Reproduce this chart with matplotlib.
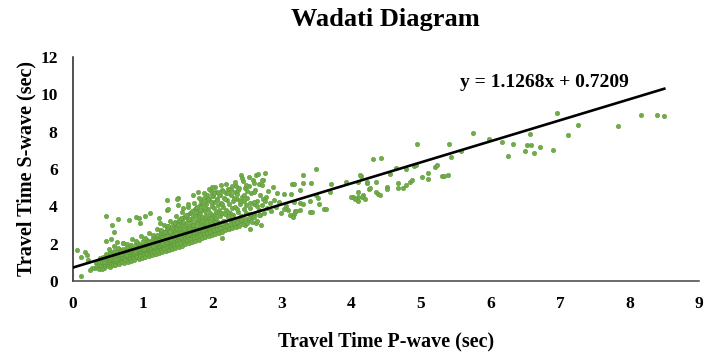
import matplotlib
matplotlib.use("Agg")
import matplotlib.pyplot as plt
import numpy as np

# P-wave / S-wave travel times (sec), dense part of the catalogue
core = [
    (0.314, 0.72), (0.327, 0.95), (0.352, 0.81), (0.368, 1.12), (0.376, 0.88), (0.395, 1.25),
    (0.408, 0.78), (0.423, 1.02), (0.437, 1.31), (0.441, 0.91), (0.458, 1.18), (0.462, 0.84),
    (0.474, 1.42), (0.486, 1.05), (0.493, 0.97), (0.481, 1.27),
    (0.503, 0.86), (0.517, 1.14), (0.528, 1.38), (0.512, 0.98), (0.536, 1.55), (0.544, 1.07),
    (0.549, 0.92), (0.561, 1.26), (0.566, 1.46), (0.573, 1.03), (0.582, 1.19), (0.587, 1.62),
    (0.594, 0.95), (0.598, 1.33),
    (0.604, 1.08), (0.613, 1.41), (0.619, 0.99), (0.626, 1.23), (0.634, 1.58), (0.638, 1.12),
    (0.645, 1.34), (0.652, 1.02), (0.657, 1.70), (0.664, 1.18), (0.671, 1.47), (0.676, 1.29),
    (0.683, 1.06), (0.688, 1.39), (0.692, 1.61), (0.699, 1.15),
    (0.705, 1.28), (0.714, 1.52), (0.718, 1.09), (0.723, 1.74), (0.731, 1.36), (0.737, 1.21),
    (0.745, 1.63), (0.749, 1.44), (0.756, 1.13), (0.761, 1.31), (0.767, 1.57), (0.772, 1.82),
    (0.778, 1.25), (0.784, 1.48), (0.788, 1.17), (0.793, 1.39), (0.797, 1.66), (0.802, 1.29),
    (0.806, 1.45), (0.811, 1.19), (0.817, 1.72), (0.823, 1.34), (0.828, 1.58), (0.834, 1.26),
    (0.838, 1.91), (0.843, 1.41), (0.849, 1.22), (0.853, 1.64), (0.858, 1.50), (0.864, 1.33),
    (0.869, 1.79), (0.873, 1.28), (0.879, 1.55), (0.884, 1.43), (0.889, 1.68), (0.893, 1.24),
    (0.898, 1.37), (0.904, 1.96),
    (0.907, 1.52), (0.912, 1.30), (0.918, 1.75), (0.923, 1.41), (0.927, 1.62), (0.933, 1.27),
    (0.938, 2.05), (0.942, 1.48), (0.947, 1.36), (0.952, 1.83), (0.956, 1.57), (0.961, 1.33),
    (0.966, 1.69), (0.971, 1.44), (0.975, 1.92), (0.981, 1.38), (0.986, 1.60), (0.991, 1.51),
    (0.995, 1.78), (1.002, 1.35),
    (1.006, 1.46), (1.011, 2.12), (1.017, 1.63), (1.022, 1.40), (1.026, 1.85), (1.033, 1.55),
    (1.038, 1.37), (1.043, 1.72), (1.048, 1.98), (1.053, 1.49), (1.057, 1.66), (1.063, 1.43),
    (1.067, 2.21), (1.072, 1.58), (1.078, 1.79), (1.083, 1.45), (1.087, 1.91), (1.092, 1.61),
    (1.096, 1.52), (1.101, 2.04), (1.104, 1.71), (1.089, 1.39),
    (1.108, 1.58), (1.114, 1.87), (1.119, 1.48), (1.124, 2.15), (1.128, 1.69), (1.134, 1.53),
    (1.139, 1.95), (1.143, 1.62), (1.148, 2.31), (1.153, 1.50), (1.158, 1.77), (1.163, 1.66),
    (1.168, 2.06), (1.172, 1.56), (1.177, 1.84), (1.183, 1.72), (1.187, 2.22), (1.192, 1.60),
    (1.196, 1.93), (1.203, 1.68), (1.181, 2.42), (1.161, 1.46),
    (1.207, 1.65), (1.212, 2.01), (1.218, 1.79), (1.222, 1.57), (1.227, 2.28), (1.233, 1.72),
    (1.238, 1.90), (1.242, 1.62), (1.247, 2.47), (1.253, 1.83), (1.257, 2.12), (1.262, 1.69),
    (1.267, 1.96), (1.273, 1.76), (1.277, 2.36), (1.283, 1.64), (1.288, 2.05), (1.293, 1.87),
    (1.297, 2.58), (1.302, 1.74), (1.271, 2.68), (1.244, 2.19),
    (1.306, 1.81), (1.312, 2.18), (1.317, 1.70), (1.322, 2.43), (1.327, 1.95), (1.333, 1.77),
    (1.337, 2.66), (1.343, 2.07), (1.348, 1.86), (1.352, 2.30), (1.357, 1.73), (1.363, 2.52),
    (1.367, 2.01), (1.373, 1.90), (1.378, 2.79), (1.383, 2.24), (1.387, 1.84), (1.392, 2.11),
    (1.397, 2.38), (1.402, 1.97), (1.359, 2.92), (1.331, 2.60),
    (1.407, 1.88), (1.412, 2.26), (1.417, 2.55), (1.423, 2.04), (1.427, 1.79), (1.432, 2.71),
    (1.437, 2.17), (1.443, 1.95), (1.448, 2.92), (1.452, 2.39), (1.457, 2.08), (1.463, 1.85),
    (1.467, 2.62), (1.472, 2.29), (1.477, 3.05), (1.483, 2.00), (1.488, 2.47), (1.492, 2.15),
    (1.497, 2.81), (1.502, 1.93), (1.461, 3.18), (1.444, 2.49),
    (1.507, 2.33), (1.513, 2.02), (1.518, 2.68), (1.522, 2.21), (1.527, 3.12), (1.533, 1.96),
    (1.538, 2.45), (1.543, 2.86), (1.547, 2.12), (1.553, 3.31), (1.558, 2.57), (1.562, 2.27),
    (1.567, 2.05), (1.573, 2.98), (1.578, 2.39), (1.582, 2.73), (1.588, 2.18), (1.593, 3.44),
    (1.597, 2.51), (1.603, 2.10),
    (1.607, 2.64), (1.612, 2.29), (1.618, 3.06), (1.623, 2.14), (1.627, 2.83), (1.632, 2.47),
    (1.638, 3.52), (1.642, 2.23), (1.647, 2.71), (1.653, 2.38), (1.658, 3.25), (1.662, 2.58),
    (1.667, 2.19), (1.673, 2.95), (1.677, 3.63), (1.682, 2.44), (1.688, 2.77), (1.693, 2.32),
    (1.697, 3.14), (1.702, 2.55),
    (1.707, 2.41), (1.713, 3.38), (1.717, 2.68), (1.722, 2.26), (1.728, 3.02), (1.733, 3.81),
    (1.737, 2.52), (1.742, 2.89), (1.748, 2.34), (1.753, 3.55), (1.757, 2.75), (1.763, 3.20),
    (1.767, 2.47), (1.772, 3.93), (1.778, 2.63), (1.783, 3.08), (1.787, 2.39), (1.792, 3.47),
    (1.797, 2.86), (1.803, 3.71),
    (1.807, 2.58), (1.812, 3.29), (1.818, 2.44), (1.823, 4.05), (1.827, 2.97), (1.832, 3.62),
    (1.838, 2.71), (1.843, 3.15), (1.847, 4.28), (1.853, 2.53), (1.857, 3.43), (1.862, 2.86),
    (1.868, 3.88), (1.873, 2.66), (1.877, 3.06), (1.882, 4.46), (1.887, 2.49), (1.893, 3.34),
    (1.897, 3.74), (1.903, 2.93),
    (1.907, 2.77), (1.912, 3.52), (1.917, 4.15), (1.923, 2.60), (1.927, 3.21), (1.932, 4.62),
    (1.937, 2.91), (1.943, 3.84), (1.948, 2.69), (1.952, 3.40), (1.957, 4.37), (1.963, 3.03),
    (1.967, 2.56), (1.972, 3.66), (1.977, 4.81), (1.982, 3.12), (1.988, 2.84), (1.993, 4.02),
    (1.997, 3.47), (2.003, 2.72),
    (2.008, 3.28), (2.013, 4.55), (2.018, 2.87), (2.022, 3.93), (2.027, 2.64), (2.033, 4.24),
    (2.038, 3.58), (2.042, 3.05), (2.047, 4.78), (2.053, 2.79), (2.058, 3.71), (2.062, 3.36),
    (2.068, 4.41), (2.073, 2.95), (2.078, 3.17), (2.083, 4.06), (2.088, 2.70), (2.097, 3.82),
    (2.106, 3.49), (2.112, 4.63), (2.118, 2.98), (2.123, 4.18), (2.131, 2.83), (2.137, 3.66),
    (2.142, 2.28), (2.148, 4.89), (2.153, 3.24), (2.162, 3.95), (2.168, 2.91), (2.174, 4.44),
    (2.181, 3.57), (2.187, 3.09), (2.193, 4.71), (2.198, 2.76),
    (2.206, 3.81), (2.213, 4.32), (2.219, 3.02), (2.227, 4.95), (2.233, 3.44), (2.241, 2.86),
    (2.248, 4.12), (2.253, 3.63), (2.262, 2.97), (2.268, 4.58), (2.274, 3.28), (2.282, 3.89),
    (2.291, 3.13), (2.297, 4.27),
    (2.306, 3.55), (2.313, 2.92), (2.322, 4.74), (2.328, 3.97), (2.337, 3.21), (2.346, 5.10),
    (2.352, 4.38), (2.361, 3.06), (2.368, 3.71), (2.377, 4.86), (2.386, 3.38), (2.394, 4.15),
    (2.412, 5.67), (2.418, 3.48), (2.427, 4.52), (2.436, 3.14), (2.447, 5.35), (2.453, 3.86),
    (2.461, 4.27), (2.468, 3.02), (2.477, 4.96), (2.488, 3.63),
    (2.506, 4.43), (2.516, 3.27), (2.527, 5.08), (2.538, 2.76), (2.547, 3.92), (2.558, 4.69),
    (2.567, 3.45), (2.587, 5.40), (2.596, 4.12),
    (2.608, 3.58), (2.617, 4.87), (2.628, 3.12), (2.637, 5.67), (2.648, 4.31), (2.668, 3.79),
    (2.677, 5.21), (2.688, 4.58),
    (2.706, 2.99), (2.718, 4.05), (2.737, 5.43), (2.748, 3.66), (2.757, 5.76), (2.776, 4.49),
    (2.788, 3.91),
    (2.808, 4.83), (2.827, 4.18), (2.846, 3.74), (2.868, 5.02), (2.887, 4.36),
    (2.912, 3.95), (2.938, 4.72), (2.957, 4.21), (2.986, 3.62),
]

# lower side of the band
core_low = [
    (0.452, 0.68), (0.497, 0.79), (0.538, 0.74), (0.571, 0.88), (0.609, 0.83), (0.642, 0.97),
    (0.668, 0.89), (0.703, 1.04), (0.729, 0.96), (0.752, 1.11), (0.786, 1.02), (0.813, 1.16),
    (0.836, 1.08), (0.861, 1.22), (0.884, 1.13), (0.917, 1.27), (0.944, 1.18), (0.968, 1.33),
    (0.993, 1.22), (1.018, 1.38), (1.041, 1.27), (1.069, 1.44), (1.093, 1.32), (1.117, 1.49),
    (1.142, 1.37), (1.166, 1.55), (1.191, 1.43), (1.214, 1.61), (1.236, 1.48), (1.262, 1.66),
    (1.284, 1.54), (1.309, 1.72), (1.331, 1.59), (1.356, 1.78), (1.378, 1.65), (1.404, 1.84),
    (1.426, 1.71), (1.451, 1.91), (1.473, 1.77), (1.496, 1.97), (1.521, 1.83), (1.544, 2.04),
    (1.569, 1.89), (1.592, 2.11), (1.617, 1.96), (1.639, 2.17), (1.664, 2.02), (1.686, 2.24),
    (1.711, 2.09), (1.734, 2.31), (1.758, 2.15), (1.781, 2.38), (1.806, 2.22), (1.829, 2.44),
    (1.853, 2.29), (1.876, 2.51), (1.901, 2.35), (1.924, 2.58), (1.948, 2.41), (1.971, 2.64),
    (1.996, 2.47), (2.021, 2.71), (2.044, 2.53), (2.069, 2.78), (2.092, 2.59), (2.117, 2.84),
    (2.141, 2.65), (2.164, 2.91), (2.189, 2.72), (2.213, 2.97), (2.237, 2.78), (2.262, 3.04),
    (2.287, 2.85), (2.311, 3.11), (2.336, 2.91), (2.362, 3.17), (2.389, 2.97), (2.416, 3.24),
    (2.442, 3.03), (2.471, 3.31), (2.503, 3.09), (2.534, 3.37), (2.566, 3.16), (2.601, 3.44),
    (2.643, 3.22), (2.687, 3.51),
    (0.452, 1.03), (0.533, 1.24), (0.614, 1.19), (0.692, 1.47), (0.761, 1.38), (0.828, 1.67),
    (0.897, 1.55), (0.962, 1.88), (1.026, 1.74), (1.091, 2.08), (1.153, 1.89), (1.219, 2.21),
    (1.282, 2.03), (1.347, 2.42), (1.413, 2.22), (1.476, 2.58), (1.539, 2.36), (1.602, 2.79),
    (1.664, 2.52), (1.728, 2.98), (1.791, 2.72), (1.853, 3.21), (1.916, 2.93), (1.978, 3.39),
    (2.041, 3.14), (2.103, 3.62), (2.166, 3.21), (2.229, 3.71), (2.292, 3.43), (2.356, 3.84),
    (2.419, 3.29), (2.481, 4.05), (2.544, 3.61), (2.607, 4.21), (2.669, 3.52), (2.731, 4.38),
]

# upper side of the band
core_high = [
    (0.512, 1.71), (0.583, 1.88), (0.647, 1.79), (0.715, 2.06), (0.781, 1.97), (0.846, 2.24),
    (0.909, 2.13), (0.973, 2.41), (1.036, 2.29), (1.097, 2.58), (1.152, 2.47), (1.209, 2.79),
    (1.258, 2.62), (1.306, 3.01), (1.352, 2.84), (1.398, 3.24), (1.441, 3.06), (1.487, 3.46),
    (1.529, 3.27), (1.571, 3.71), (1.612, 3.43), (1.654, 3.94), (1.693, 3.66), (1.736, 4.19),
    (1.774, 3.89), (1.813, 4.42), (1.851, 4.13), (1.889, 4.71), (1.926, 4.36), (1.962, 4.94),
    (2.004, 4.58), (2.041, 5.06), (2.083, 4.74), (2.122, 5.12), (2.161, 4.81), (2.204, 5.18),
    (2.247, 4.92), (2.291, 5.09), (2.335, 5.31), (2.383, 4.98), (2.432, 5.49), (2.486, 5.16),
    (2.537, 5.58), (2.608, 5.27), (2.662, 5.72), (2.724, 5.39),
    (1.214, 2.49), (1.263, 2.71), (1.318, 2.64), (1.372, 2.97), (1.416, 2.83), (1.462, 3.11),
    (1.508, 2.99), (1.547, 3.38), (1.586, 3.16), (1.629, 3.55), (1.668, 3.33), (1.708, 3.74),
    (1.747, 3.48), (1.789, 3.97), (1.828, 3.79), (1.866, 4.19), (1.904, 3.92), (1.941, 4.41),
    (1.983, 4.21), (2.026, 4.69), (2.064, 4.33), (2.103, 4.58), (2.142, 4.12), (2.186, 4.39),
    (2.226, 4.71), (2.268, 4.86), (2.316, 4.47), (2.358, 4.66), (2.401, 4.29), (2.452, 4.61),
    (2.503, 4.84), (2.551, 4.17), (2.598, 4.75), (2.652, 4.02), (2.712, 5.12), (2.761, 4.26),
]

# scattered picks away from the main band
outliers = [
    (0.06, 1.66), (0.17, 1.53), (0.20, 1.39), (0.11, 1.30), (0.22, 1.12), (0.12, 0.27),
    (0.27, 0.68), (0.24, 0.59), (0.38, 0.63), (0.41, 0.66),
    (0.47, 3.49), (0.56, 2.98), (0.65, 3.32), (0.81, 3.26), (0.90, 3.44), (0.95, 3.37),
    (0.96, 3.09), (1.03, 3.49), (0.59, 2.60), (0.48, 2.14), (0.63, 2.10), (0.72, 2.02),
    (0.54, 2.23), (1.35, 4.33), (1.51, 4.42), (1.51, 4.06), (1.11, 3.62), (1.23, 3.35),
    (1.35, 3.80), (1.37, 3.83), (1.25, 3.09), (1.80, 4.78), (2.00, 5.04), (1.73, 4.60),
    (1.65, 4.10), (1.58, 3.90), (1.49, 4.37),
]

# long-distance events
tail = [
    (3.49, 6.01), (3.30, 5.69), (3.15, 5.17), (3.18, 5.22), (3.30, 5.26), (3.42, 5.26),
    (3.71, 5.22), (3.92, 5.29), (4.14, 5.65), (4.23, 5.26), (4.09, 5.31), (3.26, 4.90),
    (3.03, 4.64), (3.13, 4.64), (3.49, 4.61), (3.52, 4.44), (3.41, 4.31), (3.54, 4.15),
    (3.26, 4.19), (3.31, 4.15), (3.18, 4.24), (3.06, 4.01), (3.09, 3.80), (3.04, 3.87),
    (3.19, 3.73), (3.17, 3.60), (3.12, 3.53), (3.16, 3.41), (3.27, 3.80), (3.21, 3.73),
    (3.40, 3.71), (3.44, 3.71), (3.61, 3.87), (3.63, 3.83), (3.70, 4.74), (4.02, 4.49),
    (4.00, 4.49), (4.10, 4.51), (4.06, 4.40), (4.09, 4.28), (4.10, 4.76), (4.26, 4.94),
    (4.13, 5.67), (4.17, 4.58), (4.15, 4.48), (4.20, 4.40), (4.23, 5.29), (4.27, 4.97),
    (4.35, 4.78), (4.39, 4.67), (4.42, 4.61), (4.36, 5.29), (4.31, 6.52), (4.43, 6.58),
    (4.52, 5.04), (4.52, 4.94), (4.56, 5.74), (4.64, 6.06), (4.79, 5.99), (4.67, 4.97),
    (4.67, 5.24), (4.75, 4.97), (4.79, 5.13), (4.85, 5.31), (4.88, 5.42), (4.90, 6.15),
    (4.93, 6.20), (4.94, 7.33), (5.01, 5.56), (5.10, 5.45), (5.11, 5.79), (5.21, 6.13),
    (5.23, 6.19), (5.31, 5.61), (5.34, 5.61), (5.39, 5.67), (5.41, 7.36), (5.43, 6.63),
    (5.58, 6.95), (5.75, 7.95), (5.98, 7.61), (6.16, 7.47), (6.33, 7.33), (6.25, 6.72),
    (6.57, 7.90), (6.53, 7.27), (6.58, 7.27), (6.50, 6.94), (6.63, 6.83), (6.71, 7.17),
    (6.90, 7.02), (6.96, 8.98), (7.12, 7.81), (7.26, 8.34), (7.84, 8.29), (8.17, 8.88),
    (8.40, 8.88), (8.50, 8.82),
]

slope, intercept = 1.1268, 0.7209

pts = np.array(core + core_low + core_high + outliers + tail)
p_wave, s_wave = pts[:, 0], pts[:, 1]

plt.rcParams['font.family'] = ['Liberation Serif', 'DejaVu Serif']
plt.rcParams['font.weight'] = 'bold'

fig = plt.figure(figsize=(7.04, 3.56), dpi=100)
ax = fig.add_axes([0.1037, 0.2107, 0.8893, 0.6293])

ax.scatter(p_wave, s_wave, s=10, color='#70AD47', edgecolors='#5E9B3A',
           linewidths=0.4, zorder=2)

fit_x = np.array([0, p_wave.max()])
ax.plot(fit_x, slope * fit_x + intercept, color='black', lw=1.9, zorder=3)
ax.text(5.56, 10.62, 'y = %.4fx + %.4f' % (slope, intercept),
        fontsize=14, fontweight='bold', ha='left', va='center')

ax.set_xlim(0, 9)
ax.set_ylim(0, 12)
ax.set_xticks(range(0, 10))
ax.set_yticks(range(0, 13, 2))
ax.tick_params(length=0, labelsize=12.5, pad=11)
for lab in ax.get_xticklabels() + ax.get_yticklabels():
    lab.set_fontweight('bold')

for side in ['top', 'right']:
    ax.spines[side].set_visible(False)
ax.spines['left'].set_color('#222222')
ax.spines['bottom'].set_color('#444444')
ax.spines['left'].set_linewidth(1.1)
ax.spines['bottom'].set_linewidth(1.1)

ax.set_xlabel('Travel Time P-wave (sec)', fontsize=14.5, fontweight='bold', labelpad=14)
ax.set_ylabel('Travel Time S-wave (sec)', fontsize=14.5, fontweight='bold', labelpad=3)
fig.text(0.548, 0.944, 'Wadati Diagram', fontsize=19, fontweight='bold',
         ha='center', va='center')

fig.savefig('out.png', dpi=100)
